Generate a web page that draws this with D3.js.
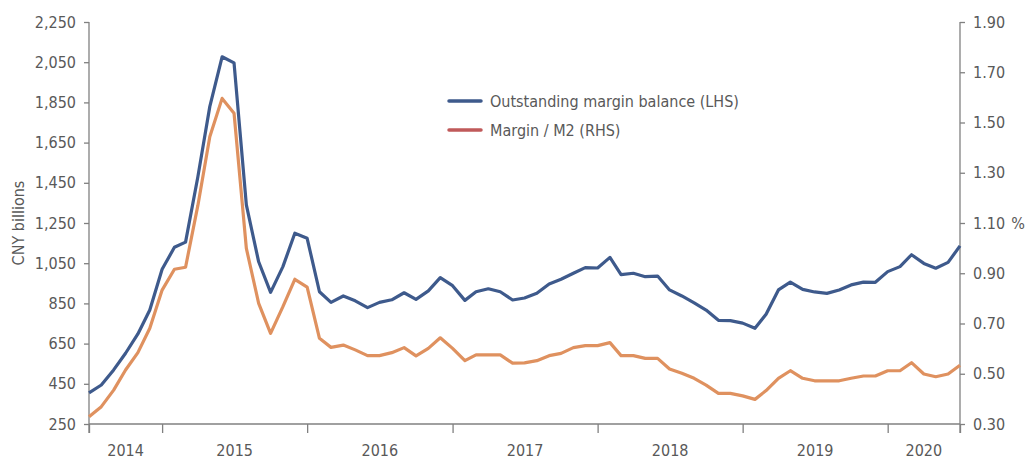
<!DOCTYPE html>
<html><head><meta charset="utf-8">
<script src="https://cdn.jsdelivr.net/npm/d3@7"></script>
<style>
html,body{margin:0;padding:0;background:#fff;}
text{font-family:"Liberation Sans Narrow","DejaVu Sans Condensed","Roboto Condensed",sans-serif;fill:#595959;}
</style></head>
<body><svg id="chart" width="1025" height="460"></svg>
<script>
// ---- data ----
const startMonth = "2014-07-01";
const endMonth = "2020-07-01";
const marginBalance = [405,444,519,602,698,817,1020,1129,1155,1480,1829,2077,2047,1340,1057,905,1033,1199,1174,908,855,
 887,863,829,855,868,903,870,912,978,938,865,908,923,908,867,877,
 900,947,970,1000,1028,1026,1079,993,1000,983,986,917,887,853,817,766,764,752,
 726,796,917,956,920,907,900,917,942,956,955,1008,1033,1092,1049,1025,1054,1136];
const marginToM2 = [0.329,0.369,0.435,0.515,0.584,0.681,0.833,0.916,0.924,1.17,1.443,1.596,1.537,0.999,0.780,0.661,0.767,0.876,0.845,0.641,0.605,
 0.614,0.595,0.572,0.572,0.584,0.604,0.571,0.601,0.643,0.601,0.552,0.575,0.575,0.575,0.542,0.543,
 0.552,0.572,0.581,0.604,0.612,0.612,0.624,0.572,0.572,0.561,0.561,0.519,0.502,0.482,0.455,0.422,0.422,0.412,
 0.398,0.433,0.482,0.512,0.482,0.472,0.472,0.472,0.482,0.491,0.491,0.512,0.512,0.544,0.499,0.488,0.499,0.534];
const leftTicks = [250,450,650,850,1050,1250,1450,1650,1850,2050,2250];
const rightTicks = [0.30,0.50,0.70,0.90,1.10,1.30,1.50,1.70,1.90];
const yearLabels = ["2014","2015","2016","2017","2018","2019","2020"];
const seriesNames = ["Outstanding margin balance (LHS)","Margin / M2 (RHS)"];
const lineColors = ["#3E5A8C","#DF915F"];
const legendColors = ["#3E5A8C","#C0595A"];

// ---- layout ----
const svg = d3.select("#chart");
const L = 89, R = 960, T = 22, B = 424;
const axisColor = "#808080";
const fs = 16;

const months = d3.utcMonth.range(new Date(startMonth), d3.utcMonth.offset(new Date(endMonth),1));
const x = d3.scaleUtc().domain([new Date(startMonth), new Date(endMonth)]).range([L, R]);
const yL = d3.scaleLinear().domain([250,2250]).range([B, T]);
const yR = d3.scaleLinear().domain([0.30,1.90]).range([B, T]);

// left axis
const gL = svg.append("g").attr("transform",`translate(${L},0)`)
  .call(d3.axisLeft(yL).tickValues(leftTicks).tickSize(5).tickPadding(8).tickFormat(d3.format(",")));
// right axis
const gR = svg.append("g").attr("transform",`translate(${R},0)`)
  .call(d3.axisRight(yR).tickValues(rightTicks).tickSize(5).tickPadding(8).tickFormat(d3.format(".2f")));
// x axis
const yearStarts = d3.utcYear.range(new Date(startMonth), new Date(endMonth));
const xTicks = [new Date(startMonth), ...yearStarts, new Date(endMonth)];
const gX = svg.append("g").attr("transform",`translate(0,${B})`)
  .call(d3.axisBottom(x).tickValues(xTicks).tickSize(9).tickFormat(""));

[gL,gR,gX].forEach(g=>{
  g.select(".domain").attr("stroke",axisColor).attr("stroke-width",1.3);
  g.selectAll(".tick line").attr("stroke",axisColor).attr("stroke-width",1.3);
  g.selectAll(".tick text").attr("font-family",null).attr("font-size",fs).attr("fill","#595959");
});
gL.select(".domain").attr("d",`M0,${T}V${B+9}`);
gR.select(".domain").attr("d",`M0,${T}V${B+9}`);
gX.select(".domain").attr("d",`M${L},0H${R}`);

// year labels centered in each year segment
yearLabels.forEach((yr,i)=>{
  const a = d3.max([new Date(startMonth), new Date(`${yr}-01-01`)]);
  const b = d3.min([new Date(endMonth), new Date(`${+yr+1}-01-01`)]);
  svg.append("text").attr("x",(x(a)+x(b))/2).attr("y",456)
    .attr("text-anchor","middle").attr("font-size",fs).text(yr);
});

// axis titles
svg.append("text").attr("transform",`translate(24,${(T+B)/2}) rotate(-90)`)
  .attr("text-anchor","middle").attr("font-size",fs).text("CNY billions");
svg.append("text").attr("x",1018).attr("y",yR(1.10)+6)
  .attr("text-anchor","middle").attr("font-size",fs).text("%");

// lines
const lineL = d3.line().x((d,i)=>x(months[i])).y(d=>yL(d));
const lineR = d3.line().x((d,i)=>x(months[i])).y(d=>yR(d));
svg.append("path").datum(marginToM2).attr("d",lineR).attr("fill","none")
  .attr("stroke",lineColors[1]).attr("stroke-width",3.2).attr("stroke-linejoin","round");
svg.append("path").datum(marginBalance).attr("d",lineL).attr("fill","none")
  .attr("stroke",lineColors[0]).attr("stroke-width",3.2).attr("stroke-linejoin","round");

// legend
seriesNames.forEach((n,i)=>{
  const yy = 101 + i*29;
  svg.append("line").attr("x1",449).attr("x2",481).attr("y1",yy).attr("y2",yy)
    .attr("stroke",legendColors[i]).attr("stroke-width",3.5).attr("stroke-linecap","round");
  svg.append("text").attr("x",490).attr("y",yy+6).attr("font-size",fs).text(n);
});
</script></body></html>
